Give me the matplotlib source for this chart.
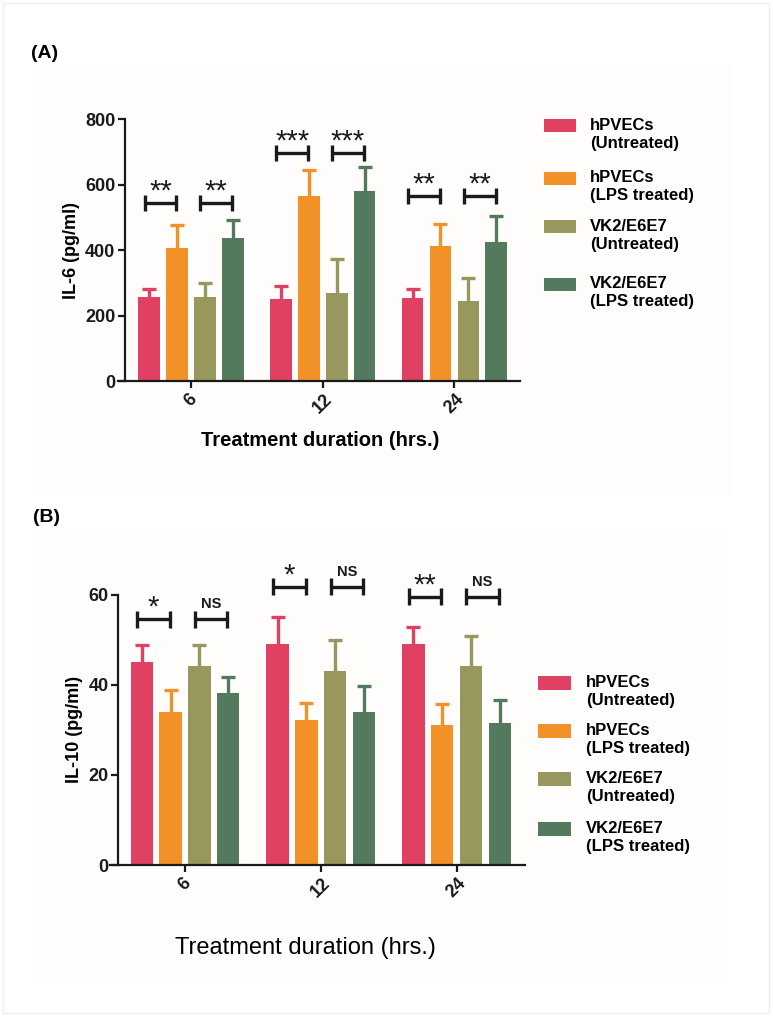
import matplotlib
matplotlib.use("Agg")
import matplotlib.pyplot as plt
import numpy as np
from matplotlib.patches import Rectangle

plt.rcParams['font.family'] = ['Liberation Sans', 'DejaVu Sans']

# Data
durations = ["6", "12", "24"]
groups = ["hPVECs\n(Untreated)", "hPVECs\n(LPS treated)",
          "VK2/E6E7\n(Untreated)", "VK2/E6E7\n(LPS treated)"]
colors = ['#E04062', '#F39129', '#98975E', '#537A5C']

# IL-6 (pg/ml): mean and upper SD, one list per group (6, 12, 24 h)
il6_mean = [[258, 252, 253], [406, 566, 413], [258, 269, 244], [437, 580, 425]]
il6_err = [[24, 38, 29], [72, 79, 67], [42, 104, 70], [56, 75, 80]]
il6_sig = [["**", "**"], ["***", "***"], ["**", "**"]]
il6_bracket = [545, 696, 565]

# IL-10 (pg/ml)
il10_mean = [[45.1, 49.1, 49.1], [34.0, 32.1, 31.0], [44.1, 43.1, 44.1], [38.1, 34.0, 31.4]]
il10_err = [[3.7, 5.8, 3.7], [4.9, 3.8, 4.8], [4.8, 6.9, 6.7], [3.7, 5.8, 5.2]]
il10_sig = [["*", "NS"], ["*", "NS"], ["**", "NS"]]
il10_bracket = [54.5, 61.7, 59.5]

W, H = 773, 1018
fig = plt.figure(figsize=(W / 100, H / 100), dpi=100)


def rect(left, top, right, bottom):
    return [left / W, 1 - bottom / H, (right - left) / W, (bottom - top) / H]


# faint page background and border
fig.add_artist(Rectangle((3 / W, 1 - 1013 / H), 766 / W, 1010 / H, transform=fig.transFigure,
                         facecolor='none', edgecolor='#eeeeee', lw=1))
fig.add_artist(Rectangle((33 / W, 1 - 495 / H), 700 / W, 430 / H, transform=fig.transFigure,
                         facecolor='#fefdfc', edgecolor='none', zorder=0))
fig.add_artist(Rectangle((33 / W, 1 - 982 / H), 695 / W, 452 / H, transform=fig.transFigure,
                         facecolor='#fefdfc', edgecolor='none', zorder=0))

offsets = [-0.318, -0.106, 0.106, 0.318]
bar_w = 0.165
x = np.arange(len(durations))


def draw_panel(ax, means, errs, sig, brackets, ymax, ystep, spine_x, cap_h, ylabel):
    for i in range(len(groups)):
        xs = x + offsets[i]
        ax.bar(xs, means[i], width=bar_w, color=colors[i], zorder=2)
        eb = ax.errorbar(xs, means[i], yerr=[np.zeros(len(x)), errs[i]], fmt='none',
                         ecolor=colors[i], elinewidth=2.4, capsize=4.7, capthick=2.4, zorder=1)
        eb[1][0].set_visible(False)  # no cap at the bar top
    for g in range(len(durations)):
        y = brackets[g]
        for p in range(2):
            c = x[g] + (offsets[2 * p] + offsets[2 * p + 1]) / 2 - 0.02
            x0, x1 = c - 0.12, c + 0.12
            ax.plot([x0, x1], [y, y], color='#1a1a1a', lw=2.4, solid_capstyle='butt', clip_on=False)
            for xe in (x0, x1):
                ax.plot([xe, xe], [y - cap_h, y + cap_h], color='#1a1a1a', lw=2.4,
                        solid_capstyle='butt', clip_on=False)
            txt = sig[g][p]
            if txt == "NS":
                ax.annotate(txt, (c, y), xytext=(0, 8), textcoords='offset points',
                            ha='center', va='baseline', fontsize=10.5, fontweight='bold',
                            color='#1a1a1a', annotation_clip=False)
            else:
                ax.annotate(txt, (c, y), xytext=(0, 2.5), textcoords='offset points',
                            ha='center', va='baseline', fontsize=21,
                            color='#1a1a1a', annotation_clip=False)
    ax.set_ylim(0, ymax)
    ax.set_yticks(np.arange(0, ymax + 1, ystep))
    ax.set_xticks(x)
    ax.set_xticklabels(durations, rotation=45, ha='center')
    ax.spines['top'].set_visible(False)
    ax.spines['right'].set_visible(False)
    ax.spines['left'].set_position(('data', spine_x))
    for s in ('left', 'bottom'):
        ax.spines[s].set_linewidth(1.6)
        ax.spines[s].set_color('#1a1a1a')
    ax.tick_params(axis='both', length=5, width=1.6, colors='#1a1a1a', labelsize=13, pad=2)
    for lab in ax.get_xticklabels() + ax.get_yticklabels():
        lab.set_fontweight('bold')
    ax.set_ylabel(ylabel, fontsize=13, fontweight='bold', labelpad=4)
    ax.patch.set_alpha(0)


axA = fig.add_axes(rect(118, 119.3, 520, 381))
axA.set_xlim(-0.554, 2.498)
draw_panel(axA, il6_mean, il6_err, il6_sig, il6_bracket, 800, 200, -0.5, 25, "IL-6 (pg/ml)")
fig.text(320 / W, 1 - 440 / H, "Treatment duration (hrs.)", ha='center', va='center',
         fontsize=14.5, fontweight='bold')
fig.text(31 / W, 1 - 53 / H, "(A)", ha='left', va='center', fontsize=14, fontweight='bold')

axB = fig.add_axes(rect(110, 594.5, 525, 865))
axB.set_xlim(-0.552, 2.504)
draw_panel(axB, il10_mean, il10_err, il10_sig, il10_bracket, 60, 20, -0.491, 1.9, "IL-10 (pg/ml)")
fig.text(305 / W, 1 - 948 / H, "Treatment duration (hrs.)", ha='center', va='center', fontsize=17)
fig.text(33 / W, 1 - 517 / H, "(B)", ha='left', va='center', fontsize=14, fontweight='bold')


# legends drawn by hand to keep the two-line labels aligned like the original
def legend(ys, px0, px1, tx, ph):
    for i, yc in enumerate(ys):
        fig.add_artist(Rectangle((px0 / W, 1 - (yc + ph / 2) / H), (px1 - px0) / W, ph / H,
                                 transform=fig.transFigure, facecolor=colors[i], edgecolor='none'))
        fig.text(tx / W, 1 - (yc - 8) / H, groups[i], ha='left', va='top', fontsize=12,
                 fontweight='bold', linespacing=1.25)


legend([125.7, 178, 226.7, 284], 544, 576, 590, 13)
legend([683, 731, 779, 829], 538, 571, 586, 14)

fig.savefig("out.png", dpi=100)
